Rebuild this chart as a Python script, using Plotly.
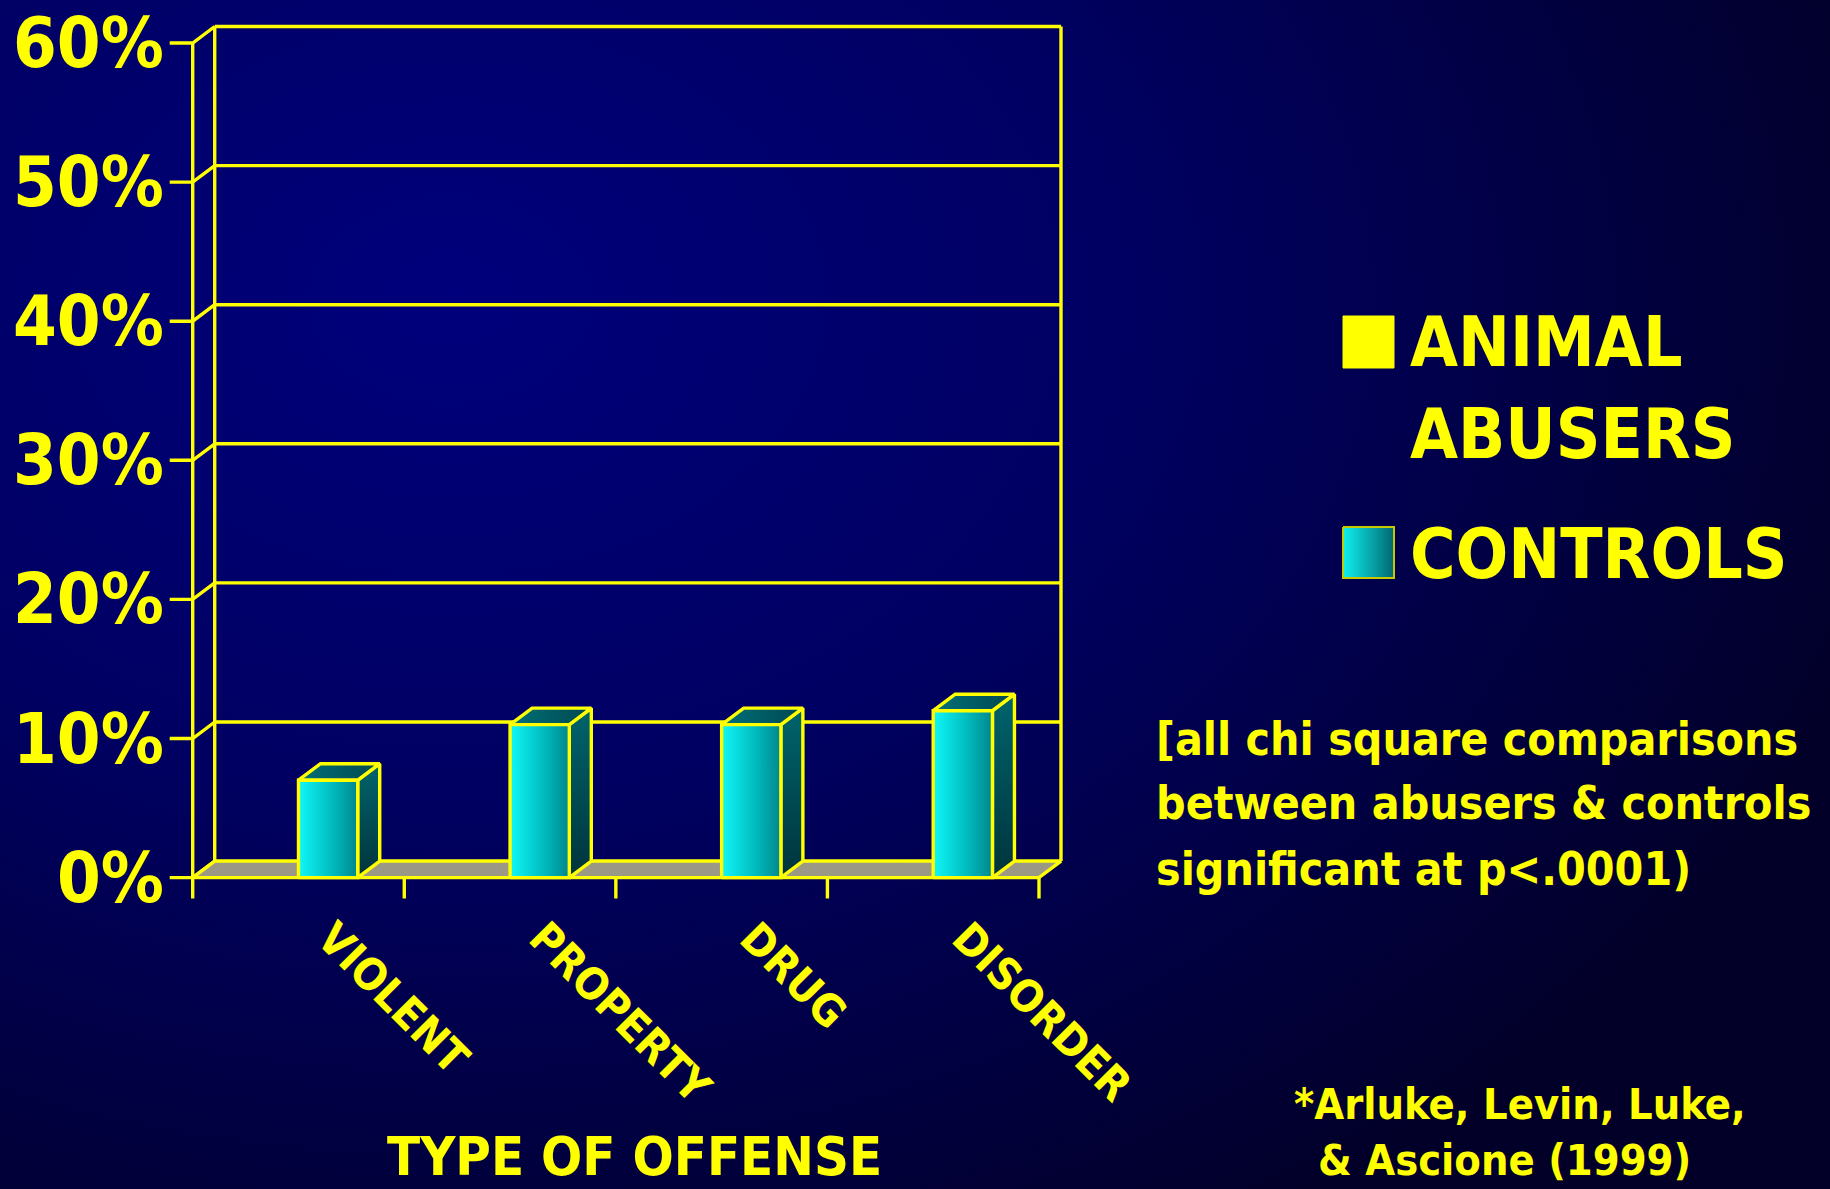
import plotly.graph_objects as go

# ---------------- data ----------------
categories = ["VIOLENT", "PROPERTY", "DRUG", "DISORDER"]
controls = [7, 11, 11, 12]            # % with offense, controls
abusers = [None, None, None, None]     # not revealed in the reference slide
y_ticks = [0, 10, 20, 30, 40, 50, 60]
y_tick_labels = ["0%", "10%", "20%", "30%", "40%", "50%", "60%"]
legend_abusers = ["ANIMAL", "ABUSERS"]
legend_controls = ["CONTROLS"]
x_title = "TYPE OF OFFENSE"
note_lines = ["[all chi square comparisons",
              "between abusers & controls",
              "significant at p<.0001)"]
citation_lines = ["*Arluke, Levin, Luke,", "& Ascione (1999)"]

# ---------------- styling / geometry ----------------
W, H = 1830, 1189
YEL = "#ffff00"
FONT = "DejaVu Sans Condensed, DejaVu Sans, sans-serif"

X0_PX, X1_PX = 192.7, 1039.0      # screen x of category bounds -0.5 and 3.5
Y0_PX, Y60_PX = 877.6, 43.0       # screen y of 0% and 60%
xr = [-0.7, 3.7]
yr = [-2.0, 62.0]
ppx = (X1_PX - X0_PX) / 4.0
ppy = (Y0_PX - Y60_PX) / 60.0
left_px = X0_PX - (-0.5 - xr[0]) * ppx
right_px = X1_PX + (xr[1] - 3.5) * ppx
top_px = Y60_PX - (yr[1] - 60) * ppy
bot_px = Y0_PX + (0 - yr[0]) * ppy

DX = 22.0 / ppx      # depth offset (x units)
DY = 16.5 / ppy      # depth offset (y units)
BW = 0.28            # bar width
YT = 23.0 / ppx      # y tick length
XT = 21.0 / ppy      # x tick length
LW = 3.4

fig = go.Figure()

# ---- background (pixel axes x/y) ----
cx, cy, ax_, ay_ = 450, 300, 1500, 1100
fig.add_trace(go.Scatter(
    x=[cx - ax_, cx + ax_, cx + ax_, cx - ax_, cx - ax_],
    y=[cy - ay_, cy - ay_, cy + ay_, cy + ay_, cy - ay_],
    mode="lines", line=dict(width=0), fill="toself",
    fillgradient=dict(type="radial",
                      colorscale=[[0, "#00007c"], [0.45, "#000062"], [1, "#020028"]]),
    hoverinfo="skip", showlegend=False, xaxis="x", yaxis="y"))

# ---- legend swatches (pixel axes) ----
sw_x0, sw_x1 = 1343, 1394
fig.add_trace(go.Scatter(
    x=[sw_x0, sw_x1, sw_x1, sw_x0, sw_x0], y=[316, 316, 368, 368, 316],
    mode="lines", line=dict(color=YEL, width=1), fill="toself", fillcolor=YEL,
    hoverinfo="skip", showlegend=False, xaxis="x", yaxis="y"))
fig.add_trace(go.Scatter(
    x=[sw_x0, sw_x1, sw_x1, sw_x0, sw_x0], y=[527, 527, 578, 578, 527],
    mode="lines", line=dict(color="#c8c800", width=2), fill="toself",
    fillgradient=dict(type="horizontal", colorscale=[[0, "#10f0f0"], [1, "#006870"]]),
    hoverinfo="skip", showlegend=False, xaxis="x", yaxis="y"))

# ---- back wall grid & connectors (chart axes x2/y2) ----
gx, gy = [], []
for v in y_ticks:
    gx += [-0.5 + DX, 3.5 + DX, None]
    gy += [v + DY, v + DY, None]
    gx += [-0.5 - YT, -0.5, -0.5 + DX, None]
    gy += [v, v, v + DY, None]
for xb in [-0.5 + DX, 3.5 + DX]:
    gx += [xb, xb, None]
    gy += [DY, y_ticks[-1] + DY, None]
fig.add_trace(go.Scatter(x=gx, y=gy, mode="lines", line=dict(color=YEL, width=LW),
                         hoverinfo="skip", showlegend=False, xaxis="x2", yaxis="y2"))

# ---- floor ----
fig.add_trace(go.Scatter(
    x=[-0.5, 3.5, 3.5 + DX, -0.5 + DX, -0.5], y=[0, 0, DY, DY, 0],
    mode="lines", line=dict(color=YEL, width=LW), fill="toself", fillcolor="#9c9886",
    hoverinfo="skip", showlegend=False, xaxis="x2", yaxis="y2"))

# ---- bars ----
def add_bar(x0, v, front_cs, side_cs, top_cs):
    x1 = x0 + BW
    common = dict(mode="lines", line=dict(color=YEL, width=LW), fill="toself",
                  hoverinfo="skip", showlegend=False, xaxis="x2", yaxis="y2")
    fig.add_trace(go.Scatter(x=[x1, x1 + DX, x1 + DX, x1, x1], y=[0, DY, v + DY, v, 0],
                             fillgradient=dict(type="vertical", colorscale=side_cs), **common))
    fig.add_trace(go.Scatter(x=[x0, x1, x1 + DX, x0 + DX, x0], y=[v, v, v + DY, v + DY, v],
                             fillgradient=dict(type="horizontal", colorscale=top_cs), **common))
    fig.add_trace(go.Scatter(x=[x0, x1, x1, x0, x0], y=[0, 0, v, v, 0],
                             fillgradient=dict(type="horizontal", colorscale=front_cs), **common))

for i, v in enumerate(abusers):
    if v is not None:
        add_bar(i - BW, v, [[0, "#ffff60"], [1, "#b0b000"]],
                [[0, "#606000"], [1, "#909000"]], [[0, "#a0a000"], [1, "#707000"]])
for i, v in enumerate(controls):
    if v is not None:
        add_bar(i, v, [[0, "#10f8f8"], [0.6, "#00b8bc"], [1, "#00868c"]],
                [[0, "#00343c"], [1, "#00646c"]], [[0, "#007078"], [1, "#004850"]])

# ---- front axes ----
fx, fy = [-0.5, -0.5, None], [0, y_ticks[-1], None]
for k in range(len(categories) + 1):
    fx += [-0.5 + k, -0.5 + k, None]
    fy += [0, -XT, None]
fig.add_trace(go.Scatter(x=fx, y=fy, mode="lines", line=dict(color=YEL, width=LW),
                         hoverinfo="skip", showlegend=False, xaxis="x2", yaxis="y2"))

annotations = []
# y tick labels
for v, t in zip(y_ticks, y_tick_labels):
    annotations.append(dict(xref="x2", yref="y2", x=-0.5 - (X0_PX - 166) / ppx, y=v,
                            xanchor="right", yanchor="middle", text=t, showarrow=False,
                            font=dict(family=FONT, size=70, color=YEL, weight="bold")))
# category labels
for i, c in enumerate(categories):
    annotations.append(dict(xref="x2", yref="paper", x=i + 0.03, y=1 - 909 / H,
                            xanchor="left", yanchor="top", textangle=45, text=c,
                            showarrow=False,
                            font=dict(family=FONT, size=44, color=YEL, weight="bold")))
# x title
annotations.append(dict(xref="x", yref="y", x=634, y=1156, xanchor="center", yanchor="middle",
                        text=x_title, showarrow=False,
                        font=dict(family=FONT, size=54, color=YEL, weight="bold")))
# legend text
for t, yy in zip(legend_abusers + legend_controls, [341.5, 434, 554]):
    annotations.append(dict(xref="x", yref="y", x=1408, y=yy, xanchor="left", yanchor="middle",
                            text=t, showarrow=False,
                            font=dict(family=FONT, size=69, color=YEL, weight="bold")))
# note
for t, yy in zip(note_lines, [739, 803, 869]):
    annotations.append(dict(xref="x", yref="y", x=1154, y=yy, xanchor="left", yanchor="middle",
                            text=t, showarrow=False,
                            font=dict(family=FONT, size=46, color=YEL, weight="bold")))
# citation
for t, xx, yy in zip(citation_lines, [1292, 1316], [1104, 1160]):
    annotations.append(dict(xref="x", yref="y", x=xx, y=yy, xanchor="left", yanchor="middle",
                            text=t, showarrow=False,
                            font=dict(family=FONT, size=43, color=YEL, weight="bold")))

fig.update_layout(
    width=W, height=H, margin=dict(l=0, r=0, t=0, b=0),
    paper_bgcolor="#020030", plot_bgcolor="rgba(0,0,0,0)",
    showlegend=False, annotations=annotations,
    xaxis=dict(domain=[0, 1], range=[0, W], visible=False, fixedrange=True),
    yaxis=dict(domain=[0, 1], range=[H, 0], visible=False, fixedrange=True),
    xaxis2=dict(domain=[left_px / W, right_px / W], range=xr, visible=False,
                anchor="y2", fixedrange=True),
    yaxis2=dict(domain=[1 - bot_px / H, 1 - top_px / H], range=yr, visible=False,
                anchor="x2", fixedrange=True),
)

fig.write_html("out.html")
